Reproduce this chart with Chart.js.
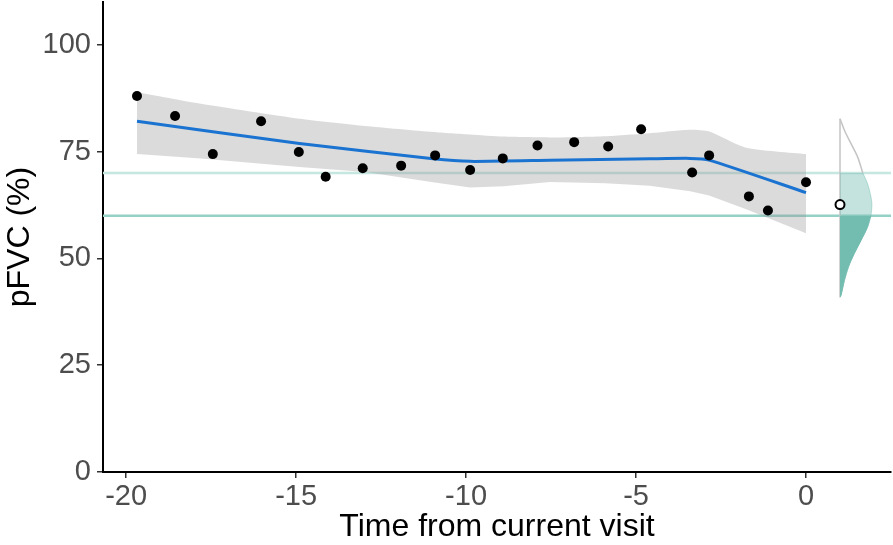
<!DOCTYPE html>
<html>
<head>
<meta charset="utf-8">
<script src="https://cdn.jsdelivr.net/npm/chart.js@4"></script>
<style>
  html, body { margin: 0; padding: 0; background: white; }
  #wrap { width: 893px; height: 545px; }
</style>
</head>
<body>
<div id="wrap"><canvas id="myChart" width="893" height="545"></canvas></div>
<script>
// observed visits
const visitTime = [-19.68, -18.56, -17.45, -16.03, -14.92, -14.13, -13.04, -11.91, -10.91, -9.88,
  -8.92, -7.9, -6.82, -5.82, -4.85, -3.35, -2.85, -1.68, -1.12, 0];
const visitPfvc = [88.0, 83.3, 74.4, 82.1, 74.9, 69.1, 71.1, 71.7, 74.1, 70.7,
  73.4, 76.4, 77.2, 76.2, 80.2, 70.1, 74.1, 64.5, 61.2, 67.8];

// fitted trajectory
const fitTime = [-19.68, -14.9, -10.97, -9.88, -7.53, -4.59, -3.41, -2.85, 0];
const fitPfvc = [82.1, 76.9, 73.3, 72.7, 72.95, 73.3, 73.4, 73.0, 65.4];

// confidence band
const bandTime = [-19.68, -17.8, -14.9, -12.97, -10.97, -9.88, -8.9, -7.53, -5.9, -4.6, -3.41, -2.85, -1.76, 0];
const bandUpper = [88.9, 86.2, 82.7, 81.0, 79.6, 79.0, 78.5, 78.3, 78.6, 79.3, 80.1, 79.7, 75.9, 74.4];
const bandLower = [74.4, 73.4, 71.4, 70.2, 67.8, 66.6, 66.9, 67.9, 67.6, 67.0, 65.7, 64.7, 61.5, 55.9];

// predicted value at current visit and its density
const predTime = 1;
const predPfvc = 62.6;
const densPfvc = [82.7, 80.0, 76.9, 73.7, 70.0, 67.5, 64.4, 62.4, 60.0, 57.3, 54.2, 51.1, 48.0, 44.8, 41.3, 40.9];
const densWidth = [0, 0.13, 0.32, 0.52, 0.67, 0.81, 0.91, 0.94, 0.91, 0.81, 0.62, 0.42, 0.25, 0.13, 0.03, 0];

// reference thresholds
const refLevels = [70, 60];

// axes
const xMin = -20.68, xMax = 2.5;
const yMin = 0, yMax = 110;
const xTicks = [-20, -15, -10, -5, 0];
const yTicks = [0, 25, 50, 75, 100];

const FONT = "'Liberation Sans', Arial, sans-serif";

const pts = (xs, ys) => xs.map((x, i) => ({ x: x, y: ys[i] }));
const densPart = (lo, hi) => densPfvc
  .map((v, i) => ({ x: predTime + densWidth[i], y: v }))
  .filter(p => p.y >= lo && p.y <= hi);

const ctx = document.getElementById('myChart').getContext('2d');
new Chart(ctx, {
  type: 'line',
  data: {
    datasets: [
      {
        data: pts(visitTime, visitPfvc),
        showLine: false,
        pointRadius: 5,
        pointBackgroundColor: '#000',
        pointBorderWidth: 0,
      },
      {
        data: [{ x: predTime, y: predPfvc }],
        showLine: false,
        pointRadius: 4.5,
        pointBackgroundColor: '#fff',
        pointBorderColor: '#000',
        pointBorderWidth: 2,
      },
      {
        data: pts(fitTime, fitPfvc),
        borderColor: '#1a73d1',
        borderWidth: 3,
        pointRadius: 0,
        tension: 0.2,
      },
      {
        data: pts(bandTime, bandLower),
        borderWidth: 0,
        pointRadius: 0,
      },
      {
        data: pts(bandTime, bandUpper),
        borderWidth: 0,
        pointRadius: 0,
        fill: '-1',
        backgroundColor: 'rgba(153,153,153,0.35)',
        tension: 0.2,
      },
      {
        // density above the upper threshold: outline only
        indexAxis: 'y',
        data: densPart(refLevels[0], 200),
        borderColor: '#c4c4c4',
        borderWidth: 1.5,
        pointRadius: 0,
        tension: 0.3,
      },
      {
        indexAxis: 'y',
        data: densPart(refLevels[1], refLevels[0]),
        borderColor: 'rgba(114,189,176,0.45)',
        borderWidth: 1,
        pointRadius: 0,
        tension: 0.3,
        fill: { value: predTime },
        backgroundColor: 'rgba(114,189,176,0.42)',
      },
      {
        indexAxis: 'y',
        data: densPart(0, refLevels[1]),
        borderColor: '#73bdb0',
        borderWidth: 1,
        pointRadius: 0,
        tension: 0.3,
        fill: { value: predTime },
        backgroundColor: '#73bdb0',
      },
      {
        data: [{ x: predTime, y: densPfvc[0] }, { x: predTime, y: densPfvc[densPfvc.length - 1] }],
        borderColor: '#c4c4c4',
        borderWidth: 1.5,
        pointRadius: 0,
      },
      {
        data: [{ x: xMin, y: refLevels[0] }, { x: xMax, y: refLevels[0] }],
        borderColor: '#c6e6e0',
        borderWidth: 2.5,
        pointRadius: 0,
      },
      {
        data: [{ x: xMin, y: refLevels[1] }, { x: xMax, y: refLevels[1] }],
        borderColor: '#95d1c5',
        borderWidth: 2.5,
        pointRadius: 0,
      },
    ],
  },
  options: {
    responsive: false,
    animation: false,
    layout: { autoPadding: false, padding: { top: 2, right: 2, left: 0, bottom: 0 } },
    plugins: {
      legend: { display: false },
      tooltip: { enabled: false },
    },
    scales: {
      x: {
        type: 'linear',
        min: xMin,
        max: xMax,
        afterBuildTicks: (scale) => { scale.ticks = xTicks.map(v => ({ value: v })); },
        afterFit: (scale) => { scale.height = 73; scale.paddingLeft = 0; scale.paddingRight = 0; },
        border: { display: true, color: '#000', width: 2 },
        grid: { drawOnChartArea: false, drawTicks: true, tickLength: 6, color: '#333', lineWidth: 1.5 },
        ticks: { color: '#4d4d4d', font: { family: FONT, size: 29, lineHeight: 1 }, padding: 4, maxRotation: 0 },
        title: {
          display: true,
          text: 'Time from current visit',
          color: '#000',
          font: { family: FONT, size: 32, lineHeight: 1 },
          padding: { top: 0, bottom: 2 },
        },
      },
      y: {
        type: 'linear',
        min: yMin,
        max: yMax,
        afterBuildTicks: (scale) => { scale.ticks = yTicks.map(v => ({ value: v })); },
        afterFit: (scale) => { scale.width = 103; scale.paddingTop = 0; scale.paddingBottom = 0; },
        border: { display: true, color: '#000', width: 2 },
        grid: { drawOnChartArea: false, drawTicks: true, tickLength: 6, color: '#333', lineWidth: 1.5 },
        ticks: { color: '#4d4d4d', font: { family: FONT, size: 29 }, padding: 6 },
        title: {
          display: true,
          text: 'pFVC (%)',
          color: '#000',
          font: { family: FONT, size: 32, lineHeight: 1 },
          padding: { top: 4, bottom: 0 },
        },
      },
    },
  },
  plugins: [
    {
      id: 'white_bg',
      beforeDraw: (chart) => {
        const c = chart.ctx;
        c.save();
        c.fillStyle = 'white';
        c.fillRect(0, 0, chart.width, chart.height);
        c.restore();
      },
    },
  ],
});
</script>
</body>
</html>
